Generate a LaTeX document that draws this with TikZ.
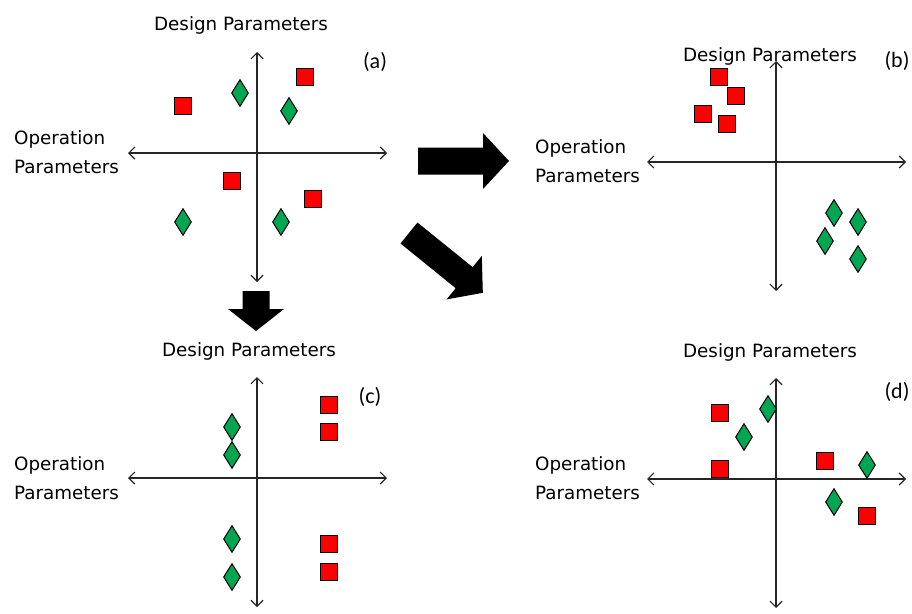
\documentclass[tikz,border=0pt]{standalone}
\usepackage{fontspec}
\setmainfont{DejaVu Sans}
\newfontfamily\tagfont{Carlito}
\usepackage{xcolor}
\usepackage{tikz}
\usetikzlibrary{shapes.geometric, arrows.meta, positioning}

\definecolor{dgreen}{RGB}{0,166,81}

\tikzset{
    sq/.style={draw=black, fill=red, minimum size=17pt, inner sep=0pt, line width=1pt},
    dia/.style={diamond, draw=black, fill=dgreen, minimum width=17pt, minimum height=27pt, inner sep=0pt, line width=1pt},
    axis/.style={draw=black!85, line width=1.2pt, {Straight Barb[length=6pt,width=12pt]}-{Straight Barb[length=6pt,width=12pt]}},
    title/.style={font=\fontsize{18.3}{29}\selectfont, inner sep=0pt},
    oplabel/.style={title, align=left, anchor=west},
    tag/.style={font=\tagfont\fontsize{22}{24}\selectfont, inner sep=0pt},
}

% fat arrow: tail centre, angle, length, head length
\newcommand{\fatarrow}[4]{
    \begin{scope}[shift={#1}, rotate=#2]
        \fill (0,-13.5) -- ({#3-#4},-13.5) -- ({#3-#4},-28) -- (#3,0)
            -- ({#3-#4},28) -- ({#3-#4},13.5) -- (0,13.5) -- cycle;
    \end{scope}
}

\begin{document}
\begin{tikzpicture}[x=1pt, y=-1pt]
    \useasboundingbox (0,0) rectangle (912,613);

    % axis origins of the four panels
    \coordinate (Oa) at (257,153);
    \coordinate (Ob) at (776,162);
    \coordinate (Oc) at (257,478);
    \coordinate (Od) at (776,479);

    % Draw the axes
    \foreach \p in {a,b,c,d} {
        \draw[axis] ([xshift=-129pt]O\p) -- ([xshift=130pt]O\p);
        \draw[axis] ([yshift=101pt]O\p) -- ([yshift=-129pt]O\p);
    }

    % Label the panels
    \node[title] (dpa) at (241,25) {Design Parameters};
    \node[title] (dpb) at (770,56) {Design Parameters};
    \node[title] (dpc) at (249,351) {Design Parameters};
    \node[title] (dpd) at (770,352) {Design Parameters};

    \node[oplabel] (opa) at (14,152) {Operation\\Parameters};
    \node[oplabel] (opb) at (535,161) {Operation\\Parameters};
    \node[oplabel] (opc) at (14,478) {Operation\\Parameters};
    \node[oplabel] (opd) at (535,478) {Operation\\Parameters};

    \node[tag] (taga) at (375,62) {(a)};
    \node[tag] (tagb) at (897,61) {(b)};
    \node[tag] (tagc) at (370,397) {(c)};
    \node[tag] (tagd) at (897,392) {(d)};

    % (a) mixed
    \node[sq] (a1) at (183,106) {};
    \node[sq] (a2) at (305,77) {};
    \node[sq] (a3) at (232,181) {};
    \node[sq] (a4) at (313,199) {};
    \node[dia] (a5) at (240,93) {};
    \node[dia] (a6) at (289,111) {};
    \node[dia] (a7) at (183,222) {};
    \node[dia] (a8) at (281,222) {};

    % (b) split along both axes
    \node[sq] (b1) at (719,77) {};
    \node[sq] (b2) at (736,96) {};
    \node[sq] (b3) at (703,114) {};
    \node[sq] (b4) at (727,124) {};
    \node[dia] (b5) at (834,213) {};
    \node[dia] (b6) at (858,222) {};
    \node[dia] (b7) at (825,241) {};
    \node[dia] (b8) at (858,259) {};

    % (c) split along operation axis
    \node[sq] (c1) at (329,405) {};
    \node[sq] (c2) at (329,432) {};
    \node[sq] (c3) at (329,544) {};
    \node[sq] (c4) at (329,572) {};
    \node[dia] (c5) at (232,427) {};
    \node[dia] (c6) at (232,455) {};
    \node[dia] (c7) at (232,539) {};
    \node[dia] (c8) at (232,577) {};

    % (d) split along design axis
    \node[sq] (d1) at (720,413) {};
    \node[sq] (d2) at (720,469) {};
    \node[sq] (d3) at (825,461) {};
    \node[sq] (d4) at (867,516) {};
    \node[dia] (d5) at (768,409) {};
    \node[dia] (d6) at (744,437) {};
    \node[dia] (d7) at (867,465) {};
    \node[dia] (d8) at (834,502) {};

    % big arrows between panels
    \fatarrow{(418,161)}{0}{91}{26}
    \fatarrow{(256,291)}{-90}{40}{22}
    \fatarrow{(409,233)}{-39}{95}{24}
\end{tikzpicture}
\end{document}
